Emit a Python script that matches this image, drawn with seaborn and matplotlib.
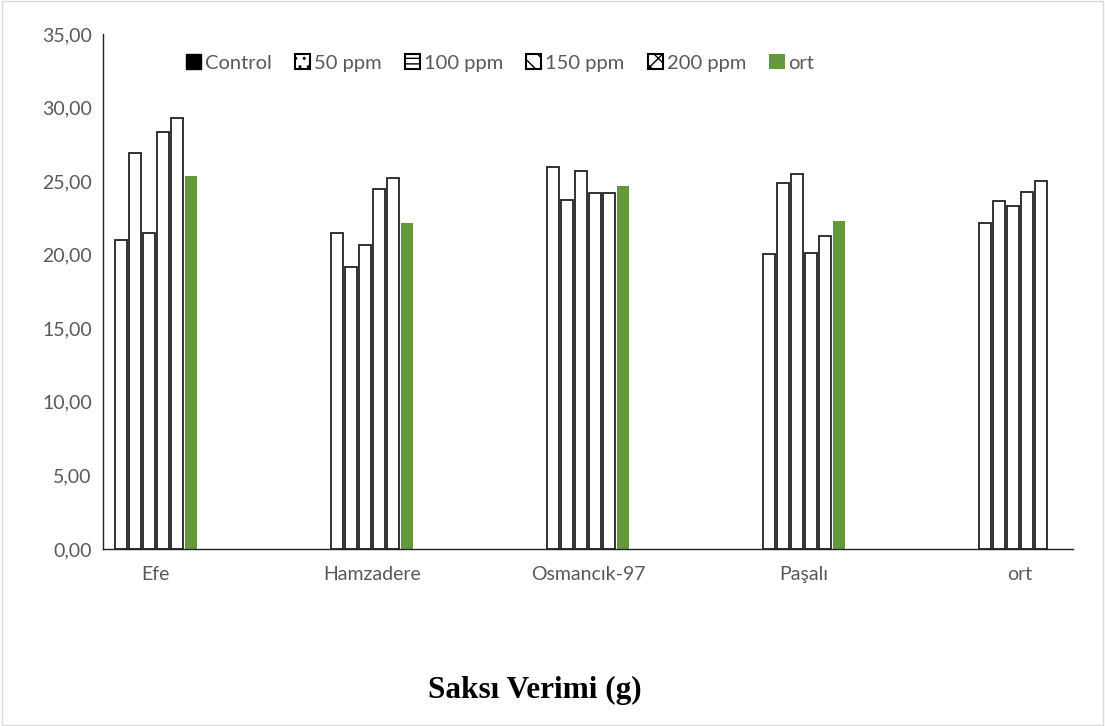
import numpy as np
import pandas as pd
import matplotlib
matplotlib.use("Agg")
import matplotlib.pyplot as plt
import seaborn as sns
from matplotlib.patches import Patch, Rectangle
from matplotlib.ticker import FuncFormatter

categories = ["Efe", "Hamzadere", "Osmancık-97", "Paşalı", "ort"]
series = ["Control", "50 ppm", "100 ppm", "150 ppm", "200 ppm", "ort"]
control = [21.0, 21.45, 25.98, 20.05, 22.13]
ppm50 = [26.89, 19.19, 23.72, 24.85, 23.65]
ppm100 = [21.45, 20.66, 25.69, 25.46, 23.33]
ppm150 = [28.34, 24.47, 24.17, 20.12, 24.26]
ppm200 = [29.27, 25.19, 24.17, 21.27, 25.01]
ort = [25.35, 22.16, 24.69, 22.31, np.nan]

values = [control, ppm50, ppm100, ppm150, ppm200, ort]
rows = []
for s, vals in zip(series, values):
    for c, v in zip(categories, vals):
        rows.append({"cat": c, "series": s, "val": v})
df = pd.DataFrame(rows)

sns.set_theme(style="white")
plt.rcParams['font.family'] = ['Lato', 'DejaVu Sans']

green = "#62993E"
palette = {s: "white" for s in series[:5]}
palette["ort"] = green

fig = plt.figure(figsize=(11.05, 7.26), dpi=100)
ax = fig.add_axes([103/1105, 1-549/726, (1073-103)/1105, (549-34)/726])

sns.barplot(data=df, x="cat", y="val", hue="series", hue_order=series,
            order=categories, palette=palette, width=0.39, gap=0.18,
            ax=ax, legend=False, saturation=1)

for p in ax.patches:
    fc = p.get_facecolor()
    if fc[0] > 0.9 and fc[1] > 0.9:
        p.set_edgecolor("#222222")
        p.set_linewidth(1.3)
    else:
        p.set_edgecolor("none")

ax.set_xlim(-0.245, 4.245)
ax.set_ylim(0, 35)
ax.set_yticks(np.arange(0, 36, 5))
ax.yaxis.set_major_formatter(FuncFormatter(lambda v, p: f"{v:.2f}".replace(".", ",")))
ax.set_xlabel("")
ax.set_ylabel("")
ax.tick_params(axis="both", colors="#595959", labelsize=14, length=0, pad=8)
ax.tick_params(axis="x", pad=12)
for sp in ["top", "right"]:
    ax.spines[sp].set_visible(False)
for sp in ["left", "bottom"]:
    ax.spines[sp].set_color("#222222")
    ax.spines[sp].set_linewidth(1.0)

handles = [
    Patch(facecolor="black", edgecolor="black", label="Control"),
    Patch(facecolor="white", edgecolor="black", hatch="..", label="50 ppm", linewidth=1.5),
    Patch(facecolor="white", edgecolor="black", hatch="---", label="100 ppm", linewidth=1.5),
    Patch(facecolor="white", edgecolor="black", hatch="\\\\", label="150 ppm", linewidth=1.5),
    Patch(facecolor="white", edgecolor="black", hatch="xx", label="200 ppm", linewidth=1.5),
    Patch(facecolor=green, edgecolor="none", label="ort"),
]
leg = fig.legend(handles=handles, loc="center", bbox_to_anchor=(500/1105, 1-63/726), ncol=6,
                 frameon=False, fontsize=14.5, handlelength=0.75, handleheight=0.75,
                 handletextpad=0.2, columnspacing=1.15)
for t in leg.get_texts():
    t.set_color("#595959")

fig.text(535/1105, 1-690/726, "Saksı Verimi (g)", ha="center", va="center",
         fontsize=22.5, fontweight="bold", family="Liberation Serif", color="black")

fig.patches.append(Rectangle((0.002, 0.002), 0.996, 0.996, transform=fig.transFigure,
                             fill=False, edgecolor="#D9D9D9", linewidth=1))

fig.savefig("out.png", dpi=100)
